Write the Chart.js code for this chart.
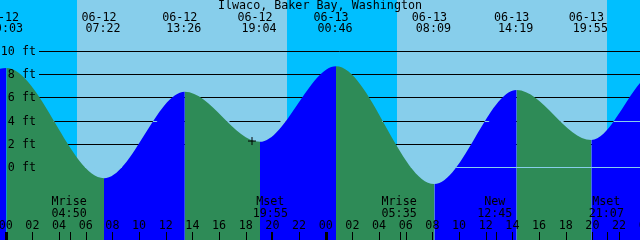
<!DOCTYPE html>
<html>
<head>
<meta charset="utf-8">
<script src="https://cdn.jsdelivr.net/npm/chart.js@4"></script>
<style>
html, body { margin: 0; padding: 0; background: #00bfff; }
canvas { display: block; }
</style>
</head>
<body>
<canvas id="tideChart" width="640" height="240"></canvas>
<script>
const title = 'Ilwaco, Baker Bay, Washington';

// hours since 06-12 00:00, heights in ft
const tideHours = [-0.43, 0.05, 7.37, 13.43, 19.07, 24.77, 32.15, 38.32, 43.92, 47.57];
const tideFeet  = [8.52, 8.58, -0.95, 6.54, 2.21, 8.75, -1.44, 6.69, 2.36, 7.29];

// labels for the highs/lows (tideHours[1..8])
const eventDates = ['06-12', '06-12', '06-12', '06-12', '06-13', '06-13', '06-13', '06-13'];
const eventTimes = ['00:03', '07:22', '13:26', '19:04', '00:46', '08:09', '14:19', '19:55'];

const sunrise = [5.35, 29.35];
const sunset  = [21.1, 45.1];

const moonHours = [4.83, 19.92, 29.58, 36.75, 45.12];
const moonNames = ['Mrise', 'Mset', 'Mrise', 'New', 'Mset'];
const moonTimes = ['04:50', '19:55', '05:35', '12:45', '21:07'];

const hourTicks  = [0, 2, 4, 6, 8, 10, 12, 14, 16, 18, 20, 22, 24, 26, 28, 30, 32, 34, 36, 38, 40, 42, 44, 46, 48];
const hourLabels = ['00', '02', '04', '06', '08', '10', '12', '14', '16', '18', '20', '22',
                    '00', '02', '04', '06', '08', '10', '12', '14', '16', '18', '20', '22', '00'];
const dayTicks = [0, 24];

const levelFeet   = [10, 8, 6, 4, 2, 0];
const levelLabels = ['10 ft', '8 ft', '6 ft', '4 ft', '2 ft', '0 ft'];
const darkLevels  = [10, 8, 6, 4, 2];
const lightLevels = [4, 0];

const markHour = [18.47];
const markFeet = [2.27];

const NIGHT = '#00bfff', DAY = '#87ceeb', FALL = '#2e8b57', RISE = '#0000ff';
const FONT = '11.7px "DejaVu Sans Mono", monospace';

const tidePlugin = {
  id: 'tide',
  beforeDatasetsDraw(chart) {
    const { ctx, chartArea: a, scales: { x, y } } = chart;
    ctx.save();
    ctx.fillStyle = NIGHT;
    ctx.fillRect(a.left, a.top, a.width, a.height);
    ctx.fillStyle = DAY;
    sunrise.forEach((t, i) => {
      const x0 = Math.round(x.getPixelForValue(t));
      const x1 = Math.round(x.getPixelForValue(sunset[i]));
      ctx.fillRect(x0, a.top, x1 - x0, a.height);
    });
    ctx.strokeStyle = '#000';
    ctx.lineWidth = 1;
    darkLevels.forEach(f => {
      const py = Math.floor(y.getPixelForValue(f)) + 0.5;
      ctx.beginPath();
      ctx.moveTo(39, py);
      ctx.lineTo(a.right, py);
      ctx.stroke();
    });
    ctx.restore();
  },
  afterDatasetsDraw(chart) {
    const { ctx, chartArea: a, scales: { x, y } } = chart;
    const meta = chart.getDatasetMeta(0);
    const pts = meta.data;

    // light lines only where there is water
    ctx.save();
    ctx.beginPath();
    meta.dataset.path(ctx);
    ctx.lineTo(pts[pts.length - 1].x, a.bottom);
    ctx.lineTo(pts[0].x, a.bottom);
    ctx.closePath();
    ctx.clip();
    ctx.strokeStyle = DAY;
    ctx.lineWidth = 1;
    lightLevels.forEach(f => {
      const py = Math.floor(y.getPixelForValue(f)) + 0.5;
      ctx.beginPath();
      ctx.moveTo(39, py);
      ctx.lineTo(a.right, py);
      ctx.stroke();
    });
    ctx.restore();

    ctx.save();
    ctx.font = FONT;
    ctx.fillStyle = '#000';
    ctx.textBaseline = 'middle';

    ctx.textAlign = 'right';
    levelFeet.forEach((f, i) => {
      ctx.fillText(levelLabels[i], 36, Math.floor(y.getPixelForValue(f)) + 0.5);
    });

    ctx.textAlign = 'center';
    ctx.fillText(title, 320, 6);
    eventTimes.forEach((s, i) => {
      const px = x.getPixelForValue(tideHours[i + 1]);
      ctx.fillText(eventDates[i], px - 5, 17.5);
      ctx.fillText(s, px - 1, 29);
    });

    moonHours.forEach((t, i) => {
      const px = x.getPixelForValue(t);
      ctx.fillText(moonNames[i], px - 1, 201.5);
      ctx.fillText(moonTimes[i], px - 1, 213.5);
    });

    hourTicks.forEach((t, i) => {
      ctx.fillText(hourLabels[i], x.getPixelForValue(t), 226);
    });

    // tick marks along the bottom
    ctx.strokeStyle = '#000';
    const tick = (t, w) => {
      const px = Math.round(x.getPixelForValue(t)) + (w % 2 ? 0.5 : 0);
      ctx.lineWidth = w;
      ctx.beginPath();
      ctx.moveTo(px, 232);
      ctx.lineTo(px, a.bottom);
      ctx.stroke();
    };
    hourTicks.forEach(t => tick(t, 1));
    dayTicks.forEach(t => tick(t, 3));
    moonHours.forEach(t => tick(t, 1));
    ctx.restore();
  }
};

new Chart(document.getElementById('tideChart'), {
  type: 'line',
  data: {
    datasets: [{
      data: tideHours.map((t, i) => ({ x: t, y: tideFeet[i] })),
      fill: 'start',
      borderWidth: 0,
      pointRadius: 0,
      cubicInterpolationMode: 'monotone',
      backgroundColor: FALL,
      segment: {
        backgroundColor: c => c.p1.parsed.y < c.p0.parsed.y ? FALL : RISE
      },
      order: 1
    }, {
      type: 'scatter',
      data: markHour.map((t, i) => ({ x: t, y: markFeet[i] })),
      pointStyle: 'cross',
      pointRadius: 4,
      borderColor: '#000',
      borderWidth: 1,
      order: 0
    }]
  },
  options: {
    responsive: false,
    animation: false,
    layout: { padding: 0, autoPadding: false },
    plugins: { legend: { display: false }, tooltip: { enabled: false } },
    scales: {
      x: { type: 'linear', min: -0.43, max: 47.57, display: false },
      y: { min: -6.29, max: 14.47, display: false }
    }
  },
  plugins: [tidePlugin]
});
</script>
</body>
</html>
